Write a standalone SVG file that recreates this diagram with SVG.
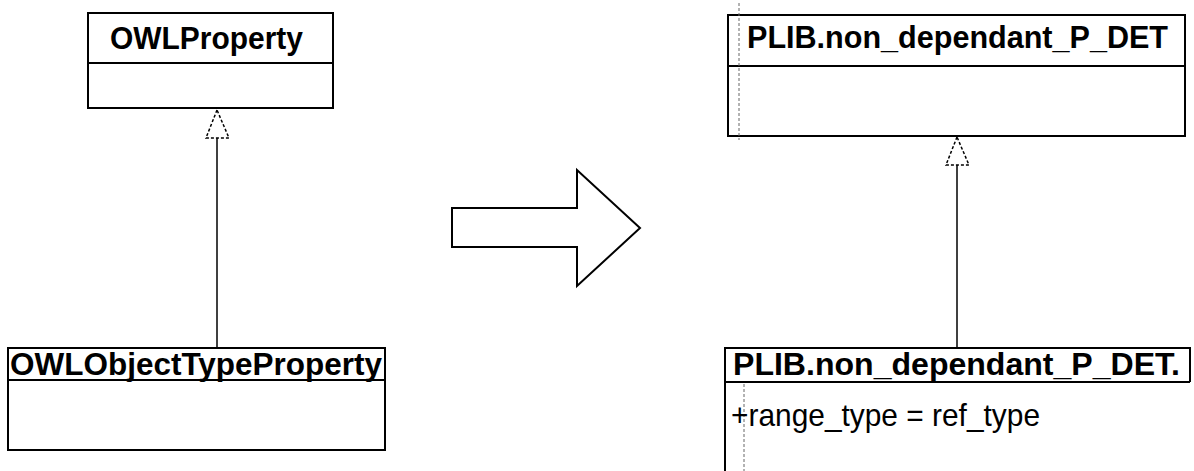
<svg xmlns="http://www.w3.org/2000/svg" width="1194" height="471" viewBox="0 0 1194 471">
<style>
.box{fill:#fff;stroke:#000;stroke-width:2}
.div{stroke:#000;stroke-width:2}
.title{font-family:"Liberation Sans",Arial,sans-serif;font-size:32px;font-weight:bold;fill:#000}
.attr{font-family:"Liberation Sans",Arial,sans-serif;font-size:32px;fill:#000}
.edge{stroke:#000;stroke-width:1.5;fill:none}
.tri{fill:#fff;stroke:#000;stroke-width:1.5;stroke-dasharray:3 2}
.guide{stroke:#666;stroke-width:1;stroke-dasharray:3 2}
</style>
<rect width="1194" height="471" fill="#fff"/>
<g id="connectors">
<line class="edge" x1="217" y1="138" x2="217" y2="348"/>
<polygon class="tri" points="217,110 206,138 229,138"/>
<line class="edge" x1="957" y1="165" x2="957" y2="348"/>
<polygon class="tri" points="957,137 946,165 969,165"/>
</g>
<g id="OWLProperty">
<rect class="box" x="88" y="13" width="245" height="95"/>
<line class="div" x1="88" y1="63" x2="333" y2="63"/>
<text class="title" x="110" y="49" textLength="193" lengthAdjust="spacingAndGlyphs">OWLProperty</text>
</g>
<g id="OWLObjectTypeProperty">
<rect class="box" x="8" y="348" width="377" height="102"/>
<line class="div" x1="8" y1="380" x2="385" y2="380"/>
<text class="title" x="10" y="375" textLength="372" lengthAdjust="spacingAndGlyphs">OWLObjectTypeProperty</text>
</g>
<g id="transform-arrow">
<polygon points="452,208 577,208 577,170 640,228 577,286 577,247 452,247" fill="#fff" stroke="#000" stroke-width="2"/>
</g>
<g id="PLIB-parent">
<rect class="box" x="728" y="15" width="457" height="121"/>
<line class="div" x1="728" y1="66" x2="1185" y2="66"/>
<line class="guide" x1="739" y1="3" x2="739" y2="140"/>
<text class="title" x="747" y="48" textLength="421" lengthAdjust="spacingAndGlyphs">PLIB.non_dependant_P_DET</text>
</g>
<g id="PLIB-child">
<path d="M725,471 V348 H1190 V382" fill="none" stroke="#000" stroke-width="2"/>
<line class="div" x1="725" y1="382" x2="1190" y2="382"/>
<line class="guide" x1="744" y1="384" x2="744" y2="471"/>
<text class="title" x="733" y="375" textLength="447" lengthAdjust="spacingAndGlyphs">PLIB.non_dependant_P_DET.</text>
<text class="attr" x="731" y="426" textLength="309" lengthAdjust="spacingAndGlyphs">+range_type = ref_type</text>
</g>
</svg>
